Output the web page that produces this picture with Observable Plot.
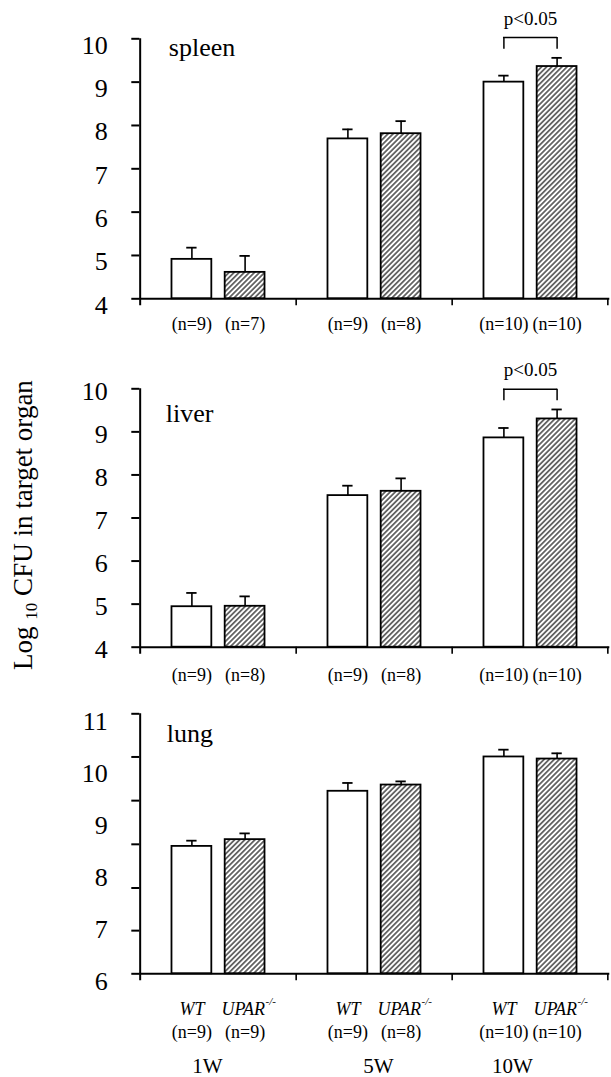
<!DOCTYPE html>
<html>
<head>
<meta charset="utf-8">
<script src="https://cdn.jsdelivr.net/npm/d3@7"></script>
<script src="https://cdn.jsdelivr.net/npm/@observablehq/plot@0.6"></script>
<style>
  html, body { margin: 0; padding: 0; background: #fff; }
  #fig { position: relative; width: 611px; height: 1077px; overflow: hidden; background: #fff;
         font-family: 'Liberation Serif'; color: #000; }
  .panel { position: absolute; left: 0; z-index: 1; }
  #ylab { position: absolute; left: 23px; top: 525px; width: 0; height: 0; z-index: 5; }
  #ylab span { position: absolute; white-space: nowrap; font-size: 27px; line-height: 27px;
               transform: translate(-50%, -50%) rotate(-90deg); }
  #ylab sub { font-size: 17px; line-height: 0; vertical-align: -5px; }
</style>
</head>
<body>
<div id="fig">
  <div id="ylab"><span>Log <sub>10</sub> CFU in target organ</span></div>
</div>
<script>
// ---------------- data ----------------
const weeks = ["1W", "5W", "10W"];
const genotypeLabels = ["WT", "UPAR"];
const knockoutSup = "-/-";
const pLabel = "p<0.05";

const spleenWT = [4.91, 7.69, 9.00];
const spleenWTsem = [0.27, 0.22, 0.15];
const spleenKO = [4.61, 7.81, 9.36];
const spleenKOsem = [0.38, 0.29, 0.20];
const spleenNWT = [9, 9, 10];
const spleenNKO = [7, 8, 10];
const spleenSig = ["10W"];

const liverWT = [4.94, 7.52, 8.86];
const liverWTsem = [0.32, 0.23, 0.23];
const liverKO = [4.95, 7.62, 9.30];
const liverKOsem = [0.23, 0.30, 0.22];
const liverNWT = [9, 9, 10];
const liverNKO = [8, 8, 10];
const liverSig = ["10W"];

const lungWT = [8.45, 9.51, 10.17];
const lungWTsem = [0.11, 0.16, 0.14];
const lungKO = [8.58, 9.63, 10.13];
const lungKOsem = [0.12, 0.07, 0.11];
const lungNWT = [9, 9, 10];
const lungNKO = [9, 8, 10];
const lungSig = [];

const spleenLiverTicks = [4, 5, 6, 7, 8, 9, 10];
const lungTickLabels = [6, 7, 8, 9, 10, 11];
const lungTickMarks = [6, 6.83, 7.65, 8.49, 9.33, 10.17, 11];

// ---------------- layout ----------------
const W = 611, ML = 139.3, MR = 1.7;
const BW = (W - ML - MR) / weeks.length;
const OFF = 26.6, BARW = 40.5, CAPW = 11;
const FONT = "Liberation Serif";
function insets(center, w) {
  return { insetLeft: BW / 2 + center - w / 2, insetRight: BW / 2 - center - w / 2 };
}

function addHatch(svg, id) {
  const ns = "http://www.w3.org/2000/svg";
  const defs = document.createElementNS(ns, "defs");
  const pat = document.createElementNS(ns, "pattern");
  pat.setAttribute("id", id);
  pat.setAttribute("patternUnits", "userSpaceOnUse");
  pat.setAttribute("width", "3.6");
  pat.setAttribute("height", "3.6");
  pat.setAttribute("patternTransform", "rotate(45)");
  const rect = document.createElementNS(ns, "rect");
  rect.setAttribute("width", "3.6"); rect.setAttribute("height", "3.6"); rect.setAttribute("fill", "white");
  const line = document.createElementNS(ns, "line");
  line.setAttribute("x1", "1.8"); line.setAttribute("x2", "1.8");
  line.setAttribute("y1", "0"); line.setAttribute("y2", "3.6");
  line.setAttribute("stroke", "black"); line.setAttribute("stroke-width", "1.1");
  pat.appendChild(rect); pat.appendChild(line); defs.appendChild(pat);
  svg.insertBefore(defs, svg.firstChild);
}

function panel(o) {
  const base = o.domain[0];
  const wt = weeks.map((w, i) => ({ week: w, mean: o.wt[i], sem: o.wtSem[i], n: o.nWT[i] }));
  const ko = weeks.map((w, i) => ({ week: w, mean: o.ko[i], sem: o.koSem[i], n: o.nKO[i] }));
  const sig = o.sig.map(w => {
    const i = weeks.indexOf(w);
    const hi = Math.max(o.wt[i] + o.wtSem[i], o.ko[i] + o.koSem[i]);
    return { week: w, legBottom: hi + 0.2, top: hi + 0.47 };
  });
  const hatchId = "hatch-" + o.name;
  const marks = [];
  [[wt, -OFF, "white"], [ko, OFF, `url(#${hatchId})`]].forEach(([rows, c, fill]) => {
    marks.push(Plot.barY(rows, { x: "week", y1: () => base, y2: "mean", fill, stroke: "black", strokeWidth: 1.8, ...insets(c, BARW) }));
    marks.push(Plot.ruleX(rows, { x: "week", y1: "mean", y2: d => d.mean + d.sem, dx: c, strokeWidth: 1.6 }));
    marks.push(Plot.tickY(rows, { x: "week", y: d => d.mean + d.sem, strokeWidth: 1.8, ...insets(c, CAPW) }));
    marks.push(Plot.text(rows, { x: "week", y: () => base, dx: c, dy: o.nDy, text: d => `(n=${d.n})`, fontSize: 18, fontFamily: FONT }));
  });
  if (sig.length) {
    marks.push(Plot.ruleX(sig, { x: "week", y1: "top", y2: "legBottom", dx: -OFF, strokeWidth: 1.5 }));
    marks.push(Plot.ruleX(sig, { x: "week", y1: "top", y2: "legBottom", dx: OFF, strokeWidth: 1.5 }));
    marks.push(Plot.tickY(sig, { x: "week", y: "top", strokeWidth: 1.5, insetLeft: BW / 2 - OFF - 0.75, insetRight: BW / 2 - OFF - 0.75 }));
    marks.push(Plot.text(sig, { x: "week", y: "top", dy: -19, text: () => pLabel, fontSize: 19, fontFamily: FONT }));
  }
  marks.push(Plot.ruleY([base], { strokeWidth: 2 }));
  marks.push(Plot.ruleX([weeks[0]], { x: d => d, dx: -BW / 2, y1: () => o.domain[1], y2: () => base, strokeWidth: 2, insetBottom: -7 }));
  marks.push(Plot.ruleX(weeks.slice(1), { x: d => d, dx: -BW / 2, y1: () => base, y2: () => base, strokeWidth: 1.6, insetBottom: -7 }));
  marks.push(Plot.ruleX([weeks[weeks.length - 1]], { x: d => d, dx: BW / 2 - 1, y1: () => base, y2: () => base, strokeWidth: 1.6, insetBottom: -7 }));
  marks.push(Plot.axisY({ ticks: o.tickMarks, tickSize: 8, strokeWidth: 2, tickFormat: () => "", label: null }));
  marks.push(Plot.axisY({ ticks: o.tickLabels, tickSize: 0, tickPadding: 32, dy: o.labelDy, fontSize: 26, fontFamily: FONT, label: null, tickFormat: d => String(d) }));
  marks.push(Plot.text([o.name], { frameAnchor: "top-left", text: d => d, textAnchor: "start", lineAnchor: "top", dx: o.nameDx, dy: o.nameDy, fontSize: 26, fontFamily: FONT }));
  if (o.bottom) {
    marks.push(Plot.text(wt, { x: "week", y: () => base, dx: -OFF, dy: 35, text: () => genotypeLabels[0], fontSize: 18, fontStyle: "italic", fontFamily: FONT }));
    marks.push(Plot.text(ko, { x: "week", y: () => base, dx: OFF + 20, dy: 35, text: () => genotypeLabels[1], textAnchor: "end", fontSize: 18, fontStyle: "italic", fontFamily: FONT }));
    marks.push(Plot.text(ko, { x: "week", y: () => base, dx: OFF + 20.5, dy: 28, text: () => knockoutSup, textAnchor: "start", fontSize: 11, fontStyle: "italic", fontFamily: FONT }));
    const weekShift = [-11, 4, -18];
    weeks.forEach((w, i) => {
      marks.push(Plot.text([w], { x: d => d, y: () => base, dx: weekShift[i], dy: 92, text: d => d, fontSize: 21, fontFamily: FONT }));
    });
  }
  const svg = Plot.plot({
    width: W, height: o.height,
    marginLeft: ML, marginRight: MR, marginTop: o.mt, marginBottom: o.height - o.mt - o.plotH,
    x: { type: "band", domain: weeks, padding: 0, axis: null },
    y: { domain: o.domain, axis: null },
    style: { background: "transparent", color: "black", overflow: "visible" },
    marks
  });
  addHatch(svg, hatchId);
  svg.classList.add("panel");
  svg.style.top = o.top + "px";
  document.getElementById("fig").appendChild(svg);
}

panel({ name: "spleen", top: 0, height: 345, mt: 38.3, plotH: 260, domain: [4, 10],
  wt: spleenWT, wtSem: spleenWTsem, ko: spleenKO, koSem: spleenKOsem, nWT: spleenNWT, nKO: spleenNKO, sig: spleenSig,
  tickMarks: spleenLiverTicks, tickLabels: spleenLiverTicks, labelDy: 6.5, nDy: 25, nameDx: 29, nameDy: -0.8 });

panel({ name: "liver", top: 345, height: 345, mt: 43.3, plotH: 258.4, domain: [4, 10],
  wt: liverWT, wtSem: liverWTsem, ko: liverKO, koSem: liverKOsem, nWT: liverNWT, nKO: liverNKO, sig: liverSig,
  tickMarks: spleenLiverTicks, tickLabels: spleenLiverTicks, labelDy: 2.5, nDy: 27.6, nameDx: 26, nameDy: 14.9 });

panel({ name: "lung", top: 690, height: 387, mt: 23.3, plotH: 260, domain: [6, 11],
  wt: lungWT, wtSem: lungWTsem, ko: lungKO, koSem: lungKOsem, nWT: lungNWT, nKO: lungNKO, sig: lungSig,
  tickMarks: lungTickMarks, tickLabels: lungTickLabels, labelDy: 8, nDy: 58.4, nameDx: 27, nameDy: 9.9, bottom: true });
</script>
</body>
</html>
